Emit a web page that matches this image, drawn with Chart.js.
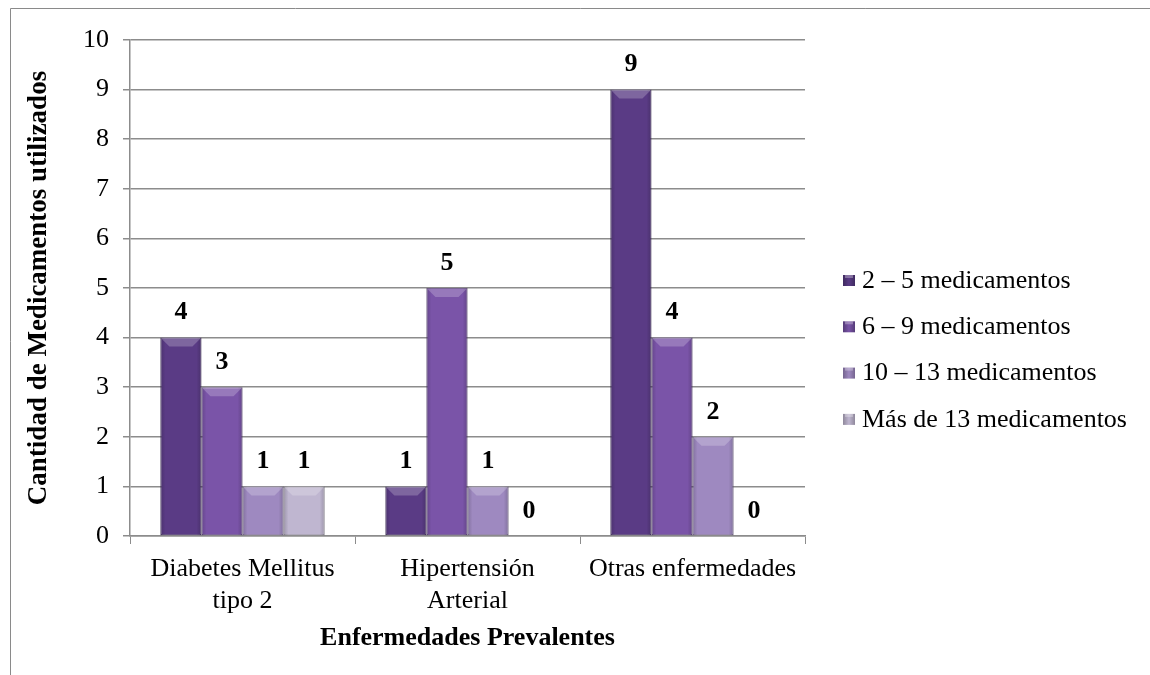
<!DOCTYPE html>
<html lang="es">
<head>
<meta charset="utf-8">
<title>Medicamentos por enfermedad</title>
<script src="https://cdn.jsdelivr.net/npm/chart.js@4/dist/chart.umd.min.js"></script>
<style>
  html, body { margin: 0; padding: 0; background: #ffffff; }
  #wrap { position: relative; width: 1150px; height: 675px; }
</style>
</head>
<body>
<div id="wrap"><canvas id="medChart" width="1150" height="675"></canvas></div>
<script>
// Categorías y series
const categories = [["Diabetes Mellitus", "tipo 2"], ["Hipertensión", "Arterial"], "Otras enfermedades"];
const seriesNames = ["2 – 5 medicamentos", "6 – 9 medicamentos", "10 – 13 medicamentos", "Más de 13 medicamentos"];
const serie2a5 = [4, 1, 9];
const serie6a9 = [3, 5, 4];
const serie10a13 = [1, 1, 2];
const serieMas13 = [1, 0, 0];
const yTicks = [0, 1, 2, 3, 4, 5, 6, 7, 8, 9, 10];

const barColors = ['#5a3b85', '#7a54a8', '#9e89c0', '#bfb6d0'];
const edgeColors = ['#3f2a60', '#553b78', '#75648f', '#8f889b'];
const fontFamily = "'Liberation Serif', 'Times New Roman', serif";
const fontSize = 26;

// marco exterior del gráfico
const framePlugin = {
    id: 'frame',
    beforeDraw(chart) {
        const ctx = chart.ctx;
        ctx.save();
        ctx.strokeStyle = '#8a8a8a';
        ctx.lineWidth = 1;
        ctx.beginPath();
        ctx.moveTo(10.5, 675);
        ctx.lineTo(10.5, 8.5);
        ctx.lineTo(1150, 8.5);
        ctx.stroke();
        ctx.restore();
    }
};

// relieve de las barras y etiquetas de valor
const bevelPlugin = {
    id: 'bevel',
    afterDatasetsDraw(chart) {
        const ctx = chart.ctx;
        chart.data.datasets.forEach((ds, i) => {
            const meta = chart.getDatasetMeta(i);
            meta.data.forEach((bar, j) => {
                const p = bar.getProps(['x', 'y', 'base', 'width'], true);
                const left = p.x - p.width / 2, right = p.x + p.width / 2;
                const h = p.base - p.y;
                if (h > 2) {
                    const b = Math.min(9, h / 3);
                    ctx.save();
                    const g = ctx.createLinearGradient(left, 0, right, 0);
                    g.addColorStop(0, 'rgba(0,0,0,0.18)');
                    g.addColorStop(0.12, 'rgba(0,0,0,0)');
                    g.addColorStop(0.88, 'rgba(0,0,0,0)');
                    g.addColorStop(1, 'rgba(0,0,0,0.18)');
                    ctx.fillStyle = g;
                    ctx.fillRect(left, p.y, p.width, h);
                    ctx.fillStyle = 'rgba(255,255,255,0.22)';
                    ctx.beginPath();
                    ctx.moveTo(left, p.y);
                    ctx.lineTo(right, p.y);
                    ctx.lineTo(right - b, p.y + b);
                    ctx.lineTo(left + b, p.y + b);
                    ctx.closePath();
                    ctx.fill();
                    ctx.restore();
                }
                ctx.save();
                ctx.fillStyle = '#000000';
                ctx.font = "bold " + fontSize + "px " + fontFamily;
                ctx.textAlign = 'center';
                ctx.textBaseline = 'middle';
                ctx.fillText(String(ds.data[j]), p.x, p.y - 25);
                ctx.restore();
            });
        });
    }
};

// leyenda a la derecha
const legendPlugin = {
    id: 'sideLegend',
    afterDraw(chart) {
        const ctx = chart.ctx;
        ctx.save();
        ctx.font = fontSize + "px " + fontFamily;
        ctx.textBaseline = 'middle';
        seriesNames.forEach((name, i) => {
            const y = 280 + i * 46.3;
            const g = ctx.createLinearGradient(843, 0, 855, 0);
            g.addColorStop(0, edgeColors[i]);
            g.addColorStop(0.5, barColors[i]);
            g.addColorStop(1, edgeColors[i]);
            ctx.fillStyle = g;
            ctx.fillRect(843, y - 5, 12, 11);
            ctx.fillStyle = 'rgba(255,255,255,0.3)';
            ctx.fillRect(845, y - 5, 8, 3);
            ctx.fillStyle = '#000000';
            ctx.fillText(name, 862, y + 1);
        });
        ctx.restore();
    }
};

const seriesData = [serie2a5, serie6a9, serie10a13, serieMas13];

new Chart(document.getElementById('medChart'), {
    type: 'bar',
    data: {
        labels: categories,
        datasets: seriesNames.map((name, i) => ({
            label: name,
            data: seriesData[i],
            backgroundColor: barColors[i],
            borderColor: edgeColors[i],
            borderWidth: 1,
            borderSkipped: false,
            barPercentage: 1,
            categoryPercentage: 0.73
        }))
    },
    options: {
        responsive: false,
        animation: false,
        layout: { padding: { left: 0, top: 40, right: 345, bottom: 0 } },
        plugins: {
            legend: { display: false },
            tooltip: { enabled: false }
        },
        scales: {
            x: {
                afterFit: s => { s.height = 139; },
                grid: {
                    offset: true,
                    drawOnChartArea: false,
                    tickLength: 8,
                    color: '#8c8c8c'
                },
                border: { color: '#8c8c8c', width: 1.5 },
                ticks: {
                    color: '#000000',
                    padding: 10,
                    maxRotation: 0,
                    font: { family: fontFamily, size: fontSize, lineHeight: 1.2 }
                },
                title: {
                    display: true,
                    text: 'Enfermedades Prevalentes',
                    color: '#000000',
                    padding: { top: 0, bottom: 21 },
                    font: { family: fontFamily, size: fontSize, weight: 'bold', lineHeight: 1.2 }
                }
            },
            y: {
                min: 0,
                max: 10,
                afterFit: s => { s.width = 130; },
                afterBuildTicks: s => { s.ticks = yTicks.map(v => ({ value: v })); },
                grid: {
                    color: '#8c8c8c',
                    lineWidth: 1.5,
                    tickLength: 7
                },
                border: { color: '#8c8c8c', width: 1.5 },
                ticks: {
                    color: '#000000',
                    padding: 14,
                    font: { family: fontFamily, size: fontSize }
                },
                title: {
                    display: true,
                    text: 'Cantidad de Medicamentos utilizados',
                    color: '#000000',
                    padding: { top: 23, bottom: 0 },
                    font: { family: fontFamily, size: 27, weight: 'bold', lineHeight: 1.2 }
                }
            }
        }
    },
    plugins: [framePlugin, bevelPlugin, legendPlugin]
});
</script>
</body>
</html>
